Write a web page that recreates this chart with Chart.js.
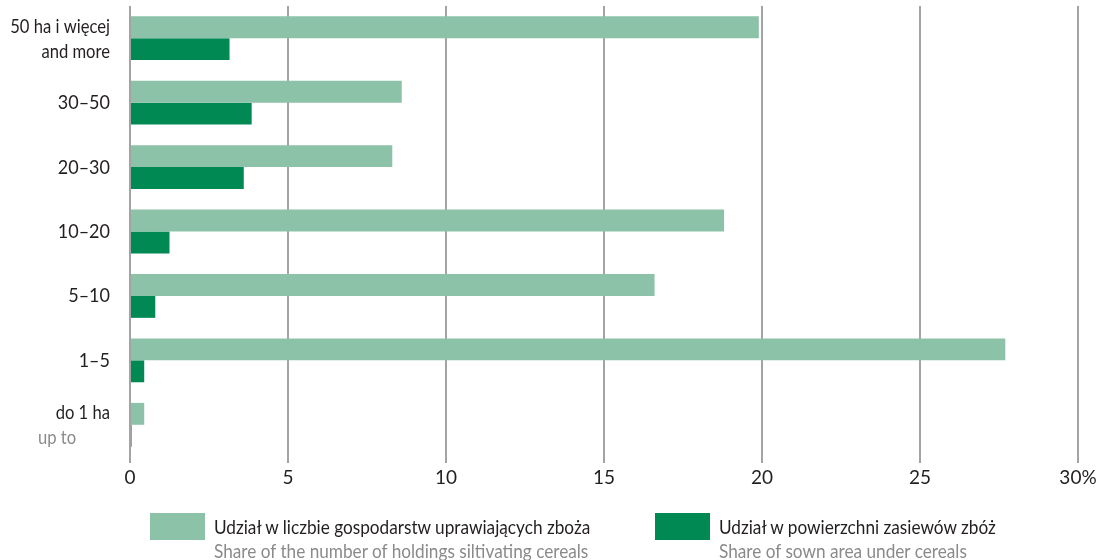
<!DOCTYPE html>
<html>
<head>
<meta charset="utf-8">
<script src="https://cdn.jsdelivr.net/npm/chart.js@4/dist/chart.umd.min.js"></script>
<style>
  html, body { margin: 0; padding: 0; background: #fff; }
  #wrap { position: relative; width: 1104px; height: 560px; overflow: hidden; font-family: Lato, "Open Sans", sans-serif; }
  #chart { position: absolute; left: 0; top: 0; }
  .lg-box { position: absolute; width: 55px; height: 27px; top: 513px; }
  .lg-txt { position: absolute; top: 514px; font-size: 20px; line-height: 24px; color: #231f20; white-space: nowrap; transform: scaleX(0.86); transform-origin: left top; }
  .lg-txt .en { color: #8a8a8a; }
</style>
</head>
<body>
<div id="wrap">
  <canvas id="chart" width="1104" height="560"></canvas>
  <div id="legend"></div>
</div>
<script>
  // size groups (top to bottom), second line of each label
  var categories = ['50 ha i więcej', '30–50', '20–30', '10–20', '5–10', '1–5', 'do 1 ha'];
  var subLabels = ['and more', '', '', '', '', '', 'up to'];
  var subColors = ['#231f20', '', '', '', '', '', '#8a8a8a'];

  // % share of holdings growing cereals
  var holdingsShare = [19.9, 8.6, 8.3, 18.8, 16.6, 27.7, 0.45];
  // % share of sown area under cereals
  var areaShare = [3.15, 3.85, 3.6, 1.25, 0.8, 0.45, 0.05];

  var xTicks = [0, 5, 10, 15, 20, 25, 30];

  var seriesNames = ['Udział w liczbie gospodarstw uprawiających zboża', 'Udział  w powierzchni zasiewów zbóż'];
  var seriesNamesEn = ['Share of the number of holdings siltivating cereals', 'Share of sown area under cereals'];
  var seriesColors = ['#8cc3a8', '#008953'];

  var fontFamily = 'Lato, "Open Sans", sans-serif';

  // text squeezed horizontally, the original uses a condensed face
  function narrowText(ctx, text, x, y, align, sx) {
    ctx.save();
    ctx.translate(x, y);
    ctx.scale(sx, 1);
    ctx.textAlign = align;
    ctx.fillText(text, 0, 0);
    ctx.restore();
  }

  // draws the category labels (two lines, second one may be grey)
  var yLabelPlugin = {
    id: 'yLabels',
    afterDraw: function(chart) {
      var ctx = chart.ctx;
      var yScale = chart.scales.y;
      var sx = 0.83;
      ctx.save();
      ctx.font = '20px ' + fontFamily;
      ctx.textBaseline = 'middle';
      for (var i = 0; i < categories.length; i++) {
        var yc = yScale.getPixelForValue(i);
        if (subLabels[i]) {
          ctx.fillStyle = '#231f20';
          narrowText(ctx, categories[i], 110, yc - 12, 'right', sx);
          ctx.fillStyle = subColors[i];
          if (i == categories.length - 1) {
            narrowText(ctx, subLabels[i], 38, yc + 13, 'left', sx);
          } else {
            narrowText(ctx, subLabels[i], 110, yc + 13, 'right', sx);
          }
        } else {
          ctx.fillStyle = '#231f20';
          narrowText(ctx, categories[i], 110, yc, 'right', 0.9);
        }
      }
      ctx.restore();
    }
  };

  var config = {
    type: 'bar',
    data: {
      labels: categories,
      datasets: [{
        label: seriesNames[0],
        data: holdingsShare,
        backgroundColor: seriesColors[0],
        categoryPercentage: 0.68,
        barPercentage: 1.0
      }, {
        label: seriesNames[1],
        data: areaShare,
        backgroundColor: seriesColors[1],
        categoryPercentage: 0.68,
        barPercentage: 1.0
      }]
    },
    options: {
      indexAxis: 'y',
      responsive: false,
      animation: false,
      layout: { padding: { top: 6, right: 26, left: 0, bottom: 0 } },
      plugins: {
        legend: { display: false },
        tooltip: { enabled: false }
      },
      scales: {
        x: {
          min: 0,
          max: 30,
          afterBuildTicks: function(scale) {
            scale.ticks = xTicks.map(function(v) { return { value: v }; });
          },
          afterFit: function(scale) { scale.height = 103; },
          grid: {
            color: '#a3a3a3',
            lineWidth: 2,
            tickLength: 6,
            drawTicks: true
          },
          border: { display: false },
          ticks: {
            color: '#231f20',
            font: { family: fontFamily, size: 19 },
            padding: 3,
            maxRotation: 0,
            callback: function(v) { return v == 30 ? '30%' : v; }
          }
        },
        y: {
          afterFit: function(scale) { scale.width = 130; },
          grid: { display: false },
          border: { display: false },
          ticks: { display: false }
        }
      }
    },
    plugins: [yLabelPlugin]
  };

  window.onload = function() {
    var ctx = document.getElementById('chart').getContext('2d');
    window.myBar = new Chart(ctx, config);

    var legend = document.getElementById('legend');
    var boxX = [150, 655];
    for (var i = 0; i < seriesNames.length; i++) {
      var box = document.createElement('div');
      box.className = 'lg-box';
      box.style.left = boxX[i] + 'px';
      box.style.background = seriesColors[i];
      legend.appendChild(box);
      var txt = document.createElement('div');
      txt.className = 'lg-txt';
      txt.style.left = (boxX[i] + 64) + 'px';
      txt.innerHTML = seriesNames[i] + '<br><span class="en">' + seriesNamesEn[i] + '</span>';
      legend.appendChild(txt);
    }
  };
</script>
</body>
</html>
